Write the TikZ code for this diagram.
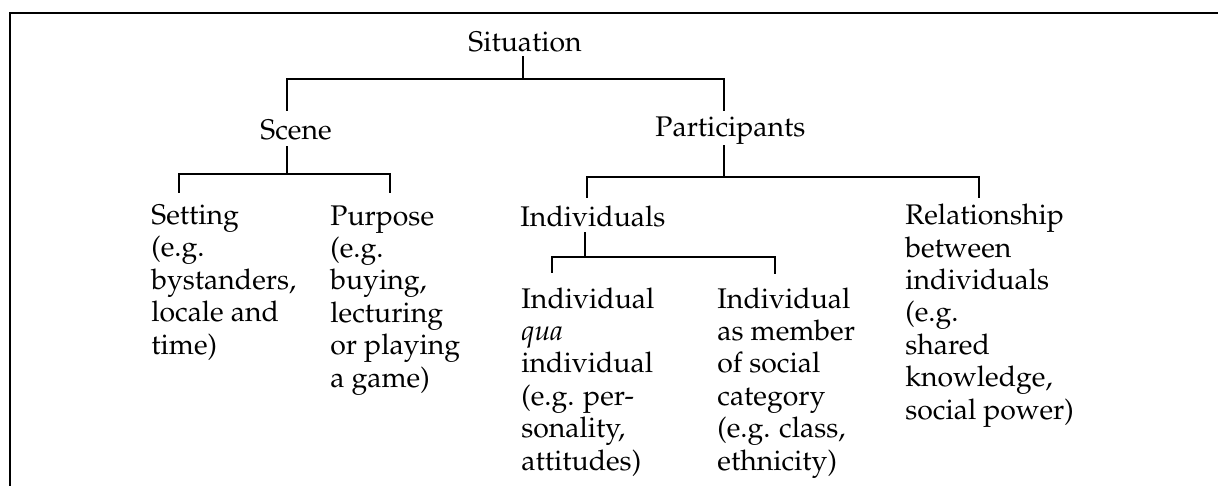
\documentclass[tikz,border=0pt]{standalone}
\usepackage[T1]{fontenc}
\usepackage{mathpazo}
\begin{document}
\begin{tikzpicture}[x=0.5pt,y=-0.5pt,
  % every label is placed by the baseline of its last line
  lbl/.style={anchor=base west,inner sep=0pt,align=left,
    font=\fontsize{14.2}{16.2}\selectfont},
  tree/.style={line width=1pt,line cap=rect},
  frame/.style={line width=1.3pt}]
\useasboundingbox (0,0) rectangle (1218,486);

% open frame: top and left edges only
\coordinate (fTL) at (10,13);
\coordinate (fTR) at (1218,13);
\coordinate (fBL) at (10,486);
\draw[frame] (fBL) -- (fTL) -- (fTR);

% labels
\node[lbl] (sit)    at (468,52)  {Situation};
\node[lbl] (scene)  at (260,140) {Scene};
\node[lbl] (part)   at (655,137) {Participants};
\node[lbl] (set)    at (151,354) {Setting\\(e.g.\\bystanders,\\locale and\\time)};
\node[lbl] (purp)   at (330,387) {Purpose\\(e.g.\\buying,\\lecturing\\or playing\\a game)};
\node[lbl] (indivs) at (520,226) {Individuals};
\node[lbl] (rel)    at (905,419) {Relationship\\between\\individuals\\(e.g.\\shared\\knowledge,\\social power)};
\node[lbl] (qua)    at (521,470) {Individual\\\textit{qua}\\individual\\(e.g. per-\\sonality,\\attitudes)};
\node[lbl] (memb)   at (717,470) {Individual\\as member\\of social\\category\\(e.g. class,\\ethnicity)};

% branch points of the tree
\coordinate (sitB)   at (523,57);   \coordinate (sitJ)   at (523,79);
\coordinate (sceneT) at (287,110);  \coordinate (partT)  at (724,110);
\coordinate (sceneB) at (287,147);  \coordinate (sceneJ) at (287,174);
\coordinate (setT)   at (179,192);  \coordinate (purpT)  at (390,192);
\coordinate (partB)  at (724,146);  \coordinate (partJ)  at (724,177);
\coordinate (indT)   at (587,197);  \coordinate (relT)   at (979,197);
\coordinate (indB)   at (585,233);  \coordinate (indJ)   at (585,257);
\coordinate (quaT)   at (552,272);  \coordinate (membT)  at (775,273);

% Situation -> Scene, Participants
\draw[tree] (sitB) -- (sitJ);
\draw[tree] (sceneT) -- (sceneT |- sitJ) -- (partT |- sitJ) -- (partT);
% Scene -> Setting, Purpose
\draw[tree] (sceneB) -- (sceneJ);
\draw[tree] (setT) -- (setT |- sceneJ) -- (purpT |- sceneJ) -- (purpT);
% Participants -> Individuals, Relationship
\draw[tree] (partB) -- (partJ);
\draw[tree] (indT) -- (indT |- partJ) -- (relT |- partJ) -- (relT);
% Individuals -> the two kinds of individual
\draw[tree] (indB) -- (indJ);
\draw[tree] (quaT) -- (quaT |- indJ) -- (membT |- indJ) -- (membT);
\end{tikzpicture}
\end{document}
